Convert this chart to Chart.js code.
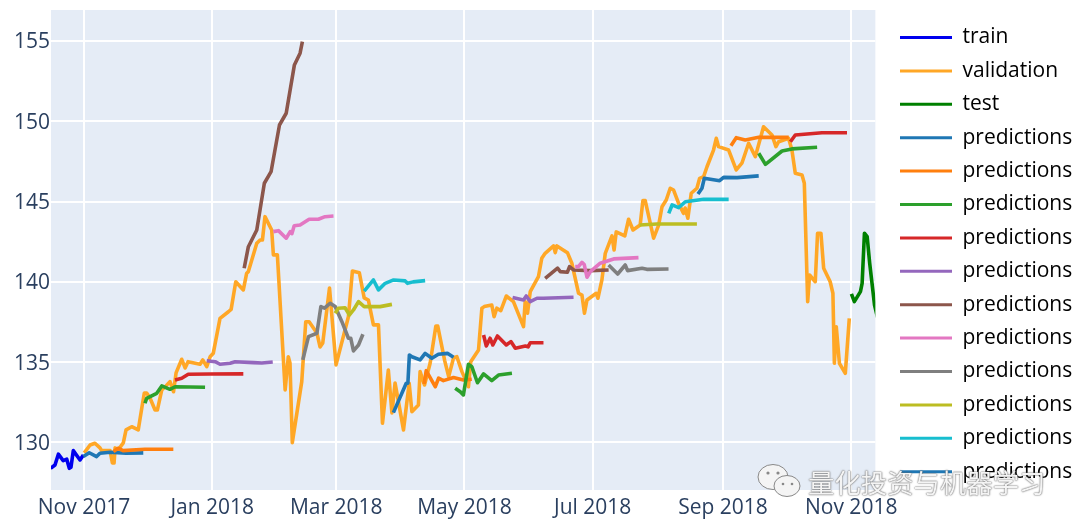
<!DOCTYPE html>
<html>
<head>
<meta charset="utf-8">
<title>predictions</title>
<script src="https://cdn.jsdelivr.net/npm/chart.js@4/dist/chart.umd.min.js"></script>
<style>
    body { margin: 0; background: #fff; }
    #wrap { position: relative; width: 1080px; height: 530px; overflow: hidden; }
    #mark { position: absolute; left: 808px; top: 462px; font: 26.4px "Noto Sans CJK SC"; color: #f4f4f4; white-space: nowrap;
            text-shadow: 0 0 2px #666, 0 0 1px #666; }
    #logo { position: absolute; left: 755px; top: 460px; }
</style>
</head>
<body>
<div id="wrap">
    <canvas id="chart" width="1080" height="530"></canvas>
    <svg id="logo" width="50" height="42" viewBox="0 0 50 42">
        <ellipse cx="18" cy="17" rx="15" ry="12.5" fill="#f4f4f4" stroke="#888" stroke-width="1"/>
        <ellipse cx="32" cy="26" rx="13" ry="10.5" fill="#f4f4f4" stroke="#888" stroke-width="1"/>
        <circle cx="13" cy="13" r="1.6" fill="#888"/>
        <circle cx="23" cy="13" r="1.6" fill="#888"/>
        <circle cx="28" cy="24" r="1.3" fill="#888"/>
        <circle cx="37" cy="24" r="1.3" fill="#888"/>
    </svg>
    <div id="mark">量化投资与机器学习</div>
</div>
<script>
// x values are days counted from 1 Nov 2017
const xTickDays = [0, 61, 120, 181, 242, 304, 365];
const xTickLabels = ['Nov 2017', 'Jan 2018', 'Mar 2018', 'May 2018', 'Jul 2018', 'Sep 2018', 'Nov 2018'];
const yTicks = [130, 135, 140, 145, 150, 155];
const legendNames = ['train', 'validation', 'test', 'predictions'];

const train = [[-15.9,128.39],[-13.8,128.6],[-12.2,129.27],[-9.9,128.87],[-8.2,128.96],[-7,128.39],[-6.2,128.46],[-5.1,129.49],[-1.9,128.91],[-0.3,129.22]];
const validation = [[0.1,129.35],[2.9,129.84],[5.2,129.95],[7.6,129.66],[8.4,129.49],[12.4,129.49],[13.5,128.72],[14.3,128.72],[14.8,129.66],[16.2,129.53],
    [18.7,129.97],[20,130.78],[22.7,130.98],[25.8,130.78],[27.5,132.15],[28.7,133.08],[29.8,133.08],[31.4,132.77],[33.8,132.02],[34.9,132.02],
    [37,133.27],[38.6,133.46],[40.9,133.79],[42.6,133.16],[43.8,134.33],[46.5,135.18],[48.1,134.64],[49.5,135.03],[55.2,134.87],[56.5,135.14],
    [58.4,134.72],[60,135.34],[61.5,135.55],[64.7,137.73],[68.7,138.14],[70,138.29],[72.2,140.01],[75.8,139.5],[77.4,140.54],[78.2,140.64],
    [82.2,142.4],[83.8,142.61],[84.9,142.61],[86.1,144.06],[89.3,143.23],[90.1,141.68],[92,141.68],[95.7,133.27],[97.2,135.34],[98,134.95],
    [99.1,129.99],[103.6,133.79],[105.5,137.52],[107.1,137.52],[110.8,136.82],[112.3,135.95],[113.6,136.2],[116.8,139.62],[119.9,134.83],[125.8,137.83],
    [127.7,140.68],[131,140.57],[133.3,139],[135.3,138.87],[137.7,137.32],[140.1,137.32],[142,131.2],[144.8,134.51],[146.5,131.84],[148,133.7],
    [152,130.78],[154.7,133.69],[156,131.92],[159.1,132.34],[159.9,134.41],[162,133.58],[164.7,134.95],[167.4,137.25],[168.3,137.25],[171.6,135.1],
    [173.5,134.1],[175.8,135.26],[177.4,135.34],[179.8,134.41],[182.9,133.47],[184,135.03],[187.7,135.76],[189.3,138.36],[190.4,138.46],[194,138.56],
    [195.1,137.83],[196.4,138.36],[198.3,138.21],[200.9,139.12],[204.3,138.77],[209.1,137.21],[209.9,138.77],[211,138.05],[212.3,139.39],[216.2,140.32],
    [217.8,141.47],[219.4,141.78],[223.4,142.24],[224.2,141.82],[225,142.24],[230,141.82],[232.1,141.16],[235.3,139.29],[236.9,139.18],[238.1,138.05],
    [239.3,138.87],[243.7,139.29],[244.5,138.98],[246.4,140.12],[248,141.78],[251.2,142.86],[252.2,141.99],[253.2,143.11],[257.3,142.86],[259.1,143.9],
    [261.2,143.23],[264.6,143.54],[265.9,145.06],[267,145.06],[271,142.72],[273.4,143.54],[275,144.68],[277,145.1],[278.9,145.83],[280.5,145.72],
    [282.9,144.89],[285.2,144.27],[286,144.6],[287.3,143.96],[288.9,145.52],[291.6,145.83],[292.9,146.45],[294.8,146.55],[296.4,147.17],[299.5,148.21],
    [300.8,148.94],[301.9,148.42],[306.7,148.21],[310.3,146.97],[313,147.39],[316.2,148.63],[319.4,147.8],[323.3,149.66],[327.3,149.15],[329.2,148.42],
    [330.5,148.73],[335.2,148.94],[336.8,148.21],[338.4,146.76],[341.6,146.66],[342.7,146.14],[344.3,138.77],[345.2,140.43],[347.9,140.01],[349,143.03],
    [350.6,143.03],[351.9,140.85],[355,140.01],[356.3,139.29],[357,134.93],[357.9,137.21],[359.4,134.93],[362.2,134.31],[364.1,137.73]];
const test = [[365.1,139.25],[366.5,138.77],[369.4,139.39],[370.2,139.91],[371.3,143.03],[372.6,142.82],[373.8,141.16],[376.1,138.56],[377.5,137.8]];

const pred1 = [[-0.3,129.12],[2.5,129.36],[6,129.12],[7.6,129.33],[12.4,129.39],[20,129.33],[28.2,129.35]];
const pred2 = [[14,129.43],[16.2,129.64],[18.6,129.49],[29,129.58],[42.5,129.58]];
const pred3 = [[29,132.44],[29.8,132.75],[34.6,133.06],[37,133.52],[40.9,133.31],[43.3,133.47],[57.6,133.44]];
const pred4 = [[43.3,133.89],[46.5,134],[49.6,134.25],[60,134.26],[75.8,134.27]];
const pred5 = [[58.4,135.09],[62.4,135.03],[64.7,134.87],[69.5,134.93],[71.9,135.03],[80.6,134.97],[84.6,134.95],[89.8,135.01]];
const pred6 = [[76.2,140.85],[78.2,142.19],[82.2,143.23],[85.8,146.14],[89,146.86],[93,149.77],[96.2,150.5],[100.1,153.51],[102.8,154.24],[103.9,154.96]];
const pred7 = [[90.1,143.13],[92.5,143.19],[96.2,142.72],[98.1,143.13],[98.9,143],[100,143.5],[102.8,143.54],[107.1,143.9],[111.5,143.9],[114.7,144.06],[118.7,144.1]];
const pred8 = [[104.1,135.14],[106.8,136.59],[110.8,136.8],[112.7,138.46],[114.4,138.36],[117.1,138.67],[119.5,138.46],[122.7,137.52],[125.8,136.49],[126.9,136.49],[128.2,135.7],[130.6,136.07],[132.7,136.74]];
const pred9 = [[119.5,138.05],[121,138.36],[124.2,138.39],[126.3,137.94],[128.2,138.25],[130.6,138.77],[133.3,138.46],[137,138.46],[140.9,138.46],[146.5,138.6]];
const pred10 = [[133.3,139.43],[137.7,140.12],[140.1,139.5],[143.3,139.91],[147.3,140.12],[152.8,140.06],[153.9,139.91],[156.6,140],[162.3,140.08]];
const pred11 = [[147.2,131.86],[153.3,133.69],[154.1,133.69],[154.8,135.45],[156,135.34],[159.9,135.14],[162.3,135.55],[165.5,135.24],[168.6,135.49],[172.9,135.55],[175.8,135.31]];
const pred12 = [[161.8,133.64],[162.8,134.47],[167.1,133.47],[168.7,134],[171,133.85],[175.8,134.04],[180.5,133.89],[184.5,133.94]];
const pred13 = [[176.6,133.38],[179,133.16],[180.5,132.96],[182.9,134.87],[184.5,134.72],[187.2,133.72],[190.1,134.27],[194,133.85],[197.2,134.2],[203.6,134.31]];
const pred14 = [[190.1,136.69],[191.4,136.01],[193.2,136.49],[194.5,136.07],[196.7,136.63],[200.9,136.07],[203.1,136.28],[205.2,135.87],[210,136.01],[211.3,135.95],[212.3,136.21],[218.6,136.21]];
const pred15 = [[203.9,139.02],[209.1,138.87],[210.4,139.12],[212.3,138.77],[215.5,138.98],[218.6,138.98],[232.9,139.04]];
const pred16 = [[219.4,140.22],[225.3,140.85],[226.6,140.64],[230,140.6],[231,140.95],[232.9,140.74],[240.9,140.7],[249.6,140.74]];
const pred17 = [[233.7,140.95],[235.2,140.95],[236.9,141.22],[238,141.08],[239.3,140.29],[240.9,140.64],[245.6,141.16],[252,141.43],[263.8,141.51]];
const pred18 = [[249.6,141.05],[253.9,140.49],[257.5,141.05],[258.6,140.7],[265.5,140.85],[267.8,140.78],[278.1,140.8]];
const pred19 = [[264.3,143.54],[272.6,143.6],[291.6,143.6]];
const pred20 = [[278.2,144.27],[279.8,144.79],[282.9,144.62],[286.1,144.99],[294.8,145.14],[306.7,145.14]];
const pred21 = [[292.1,145.47],[294,145.83],[295.1,146.45],[302.4,146.3],[304.3,146.51],[310.7,146.49],[321,146.6]];
const pred22 = [[307.8,148.48],[310.3,148.98],[314.6,148.84],[321,149],[335.3,149]];
const pred23 = [[321,148.01],[324.2,147.32],[332.1,148.15],[336.8,148.28],[348.8,148.38]];
const pred24 = [[336.1,148.73],[338.4,149.15],[351.1,149.29],[363,149.29]];

const predictions = [pred1, pred2, pred3, pred4, pred5, pred6, pred7, pred8, pred9, pred10, pred11, pred12,
    pred13, pred14, pred15, pred16, pred17, pred18, pred19, pred20, pred21, pred22, pred23, pred24];
const predictionColors = ['#1f77b4', '#ff7f0e', '#2ca02c', '#d62728', '#9467bd', '#8c564b', '#e377c2', '#7f7f7f', '#bcbd22', '#17becf'];

const toPoints = rows => rows.map(([x, y]) => ({ x, y }));
const textColor = '#2a3f5f';
const chartFont = { family: '"Open Sans"', size: 21 };

const datasets = [
    { label: legendNames[0], data: toPoints(train), borderColor: '#0000ee' },
    { label: legendNames[1], data: toPoints(validation), borderColor: '#ffa726' },
    { label: legendNames[2], data: toPoints(test), borderColor: '#008000' },
];
predictions.forEach((rows, i) => {
    datasets.push({ label: legendNames[3], data: toPoints(rows), borderColor: predictionColors[i % 10] });
});
// first trace has to be painted first, later ones go on top
datasets.forEach((d, i) => { d.order = datasets.length - i; });

// background of the plot + legend moved to where the original has it
const plotDressing = {
    id: 'plotDressing',
    beforeDraw(chart) {
        const { ctx, chartArea: a } = chart;
        ctx.save();
        ctx.fillStyle = '#e5ecf6';
        ctx.fillRect(a.left, a.top, a.right - a.left, a.bottom - a.top);
        ctx.restore();
    },
    afterLayout(chart) {
        chart.legend.left = 887.6;
        chart.legend.right = 1080; // legend clips to its own box
        chart.legend.top = 14.6;
    },
};

// tick labels must not push the plot area around
function noScalePadding(scale) {
    scale.paddingTop = 0;
    scale.paddingBottom = 0;
    scale.paddingLeft = 0;
    scale.paddingRight = 0;
}

new Chart(document.getElementById('chart'), {
    type: 'line',
    data: { datasets },
    plugins: [plotDressing],
    options: {
        responsive: false,
        animation: false,
        devicePixelRatio: 1,
        layout: { padding: { top: 10, left: 0, right: 10, bottom: 0 } },
        datasets: { line: { borderWidth: 3.6, pointRadius: 0, tension: 0, borderJoinStyle: 'round', clip: 0, fill: false } },
        scales: {
            x: {
                type: 'linear',
                min: -15.7,
                max: 376.5,
                afterFit(scale) { scale.height = 40; noScalePadding(scale); },
                afterBuildTicks(scale) { scale.ticks = xTickDays.map(value => ({ value })); },
                ticks: {
                    color: textColor,
                    font: chartFont,
                    padding: 5,
                    autoSkip: false,
                    maxRotation: 0,
                    callback: (value, i) => xTickLabels[i],
                },
                grid: { color: '#ffffff', lineWidth: 2, drawTicks: false },
                border: { display: false },
            },
            y: {
                min: 127.04,
                max: 156.93,
                afterFit(scale) { scale.width = 51; noScalePadding(scale); },
                afterBuildTicks(scale) { scale.ticks = yTicks.map(value => ({ value })); },
                ticks: { color: textColor, font: chartFont, padding: 1, labelOffset: 1.5, callback: value => String(value) },
                grid: { color: '#ffffff', lineWidth: 2, drawTicks: false },
                border: { display: false },
            },
        },
        plugins: {
            tooltip: { enabled: false },
            legend: {
                position: 'right',
                align: 'start',
                labels: {
                    boxWidth: 52,
                    boxHeight: 3,
                    padding: 12.4,
                    color: textColor,
                    font: chartFont,
                    generateLabels: chart => chart.data.datasets.slice(0, 14).map(d => ({
                        text: d.label,
                        fillStyle: d.borderColor,
                        strokeStyle: d.borderColor,
                        lineWidth: 0,
                    })),
                },
            },
        },
    },
});
</script>
</body>
</html>
